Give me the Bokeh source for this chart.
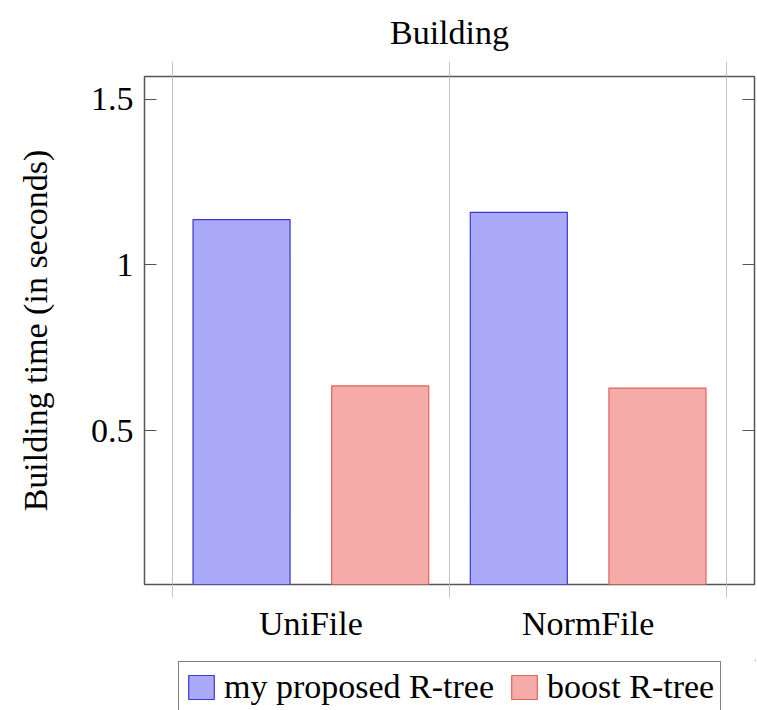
from bokeh.plotting import figure
from bokeh.layouts import column
from bokeh.models import FixedTicker, LinearAxis, Range1d, Legend, LegendItem, ColumnDataSource
from bokeh.transform import dodge
from bokeh.embed import file_html
from bokeh.resources import INLINE

categories = ["UniFile", "NormFile"]
xpos = [1, 2]
mine = [1.137, 1.159]
boost = [0.635, 0.628]
yticks = [0.5, 1, 1.5]
ytick_labels = ["0.5", "1", "1.5"]
series_names = ["my proposed R-tree", "boost R-tree"]

FONT = "Liberation Serif"
FS = "34px"
GRID = "#c4c4c4"
FRAME = "#555555"
BLUE_FILL, BLUE_LINE = "#aaaaf8", "#3a3ad2"
RED_FILL, RED_LINE = "#f5aca8", "#e2625e"

p = figure(frame_width=610, frame_height=508, x_range=Range1d(0.4, 2.6), y_range=Range1d(0.035, 1.569),
           output_backend="svg", toolbar_location=None, title="Building",
           min_border_left=144, min_border_right=2, min_border_top=73, min_border_bottom=76)

src = ColumnDataSource(dict(x=xpos, mine=mine, boost=boost))
r1 = p.vbar(x=dodge("x", -0.25), top="mine", bottom=0, width=0.35, source=src,
            fill_color=BLUE_FILL, line_color=BLUE_LINE, line_width=1.2)
r2 = p.vbar(x=dodge("x", 0.25), top="boost", bottom=0, width=0.35, source=src,
            fill_color=RED_FILL, line_color=RED_LINE, line_width=1.2)

bounds = [x - 0.5 for x in xpos] + [xpos[-1] + 0.5]

xa = p.xaxis[0]
xa.ticker = FixedTicker(ticks=xpos, minor_ticks=bounds)
xa.major_label_overrides = {x: c for x, c in zip(xpos, categories)}
xa.major_tick_line_color = None
xa.major_tick_out = 0
xa.major_tick_in = 0
xa.minor_tick_out = 13
xa.minor_tick_in = 0
xa.minor_tick_line_color = GRID
xa.axis_line_color = None
xa.major_label_standoff = 7
xa.major_label_text_font = FONT
xa.major_label_text_font_size = FS
xa.major_label_text_color = "black"

ta = LinearAxis(ticker=FixedTicker(ticks=[], minor_ticks=bounds),
                major_tick_line_color=None, major_tick_out=0, major_tick_in=0,
                major_label_standoff=0,
                minor_tick_out=15, minor_tick_in=0, minor_tick_line_color=GRID,
                axis_line_color=None)
p.add_layout(ta, "above")

p.xgrid.ticker = FixedTicker(ticks=xpos, minor_ticks=bounds)
p.xgrid.grid_line_color = None
p.xgrid.minor_grid_line_color = GRID
p.ygrid.grid_line_color = None

ya = p.yaxis[0]
ya.ticker = FixedTicker(ticks=yticks)
ya.major_label_overrides = {t: l for t, l in zip(yticks, ytick_labels)}
ya.major_tick_in = 12
ya.major_tick_out = 0
ya.major_tick_line_color = FRAME
ya.minor_tick_line_color = None
ya.axis_line_color = None
ya.major_label_standoff = 11
ya.major_label_text_font = FONT
ya.major_label_text_font_size = FS
ya.major_label_text_color = "black"
ya.axis_label = "Building time (in seconds)"
ya.axis_label_text_font = FONT
ya.axis_label_text_font_size = FS
ya.axis_label_text_font_style = "normal"
ya.axis_label_text_color = "black"
ya.axis_label_standoff = 34

ra = LinearAxis(ticker=FixedTicker(ticks=[], minor_ticks=yticks),
                major_label_standoff=0, major_tick_in=0, major_tick_out=0,
                major_tick_line_color=None, minor_tick_in=12, minor_tick_out=0,
                minor_tick_line_color=FRAME, axis_line_color=None)
p.add_layout(ra, "right")

p.outline_line_color = FRAME
p.outline_line_width = 1.5

p.title.text_font = FONT
p.title.text_font_size = FS
p.title.text_font_style = "normal"
p.title.text_color = "black"
p.title.align = "center"
p.title.standoff = 22

# legend strip below the chart (its own bar renderers lie outside its visible range)
p2 = figure(width=757, height=53, x_range=Range1d(-20, -19), y_range=Range1d(-20, -19),
            output_backend="svg", toolbar_location=None,
            x_axis_location=None, y_axis_location=None,
            min_border_left=0, min_border_right=0, min_border_top=0, min_border_bottom=0)
p2.grid.visible = False
p2.outline_line_color = None
l1 = p2.vbar(x=dodge("x", -0.25), top="mine", bottom=0, width=0.35, source=src,
             fill_color=BLUE_FILL, line_color=BLUE_LINE, line_width=1.2)
l2 = p2.vbar(x=dodge("x", 0.25), top="boost", bottom=0, width=0.35, source=src,
             fill_color=RED_FILL, line_color=RED_LINE, line_width=1.2)

legend = Legend(items=[LegendItem(label=series_names[0], renderers=[l1]),
                       LegendItem(label=series_names[1], renderers=[l2])],
                orientation="horizontal", location=(34, 0),
                label_text_font=FONT, label_text_font_size=FS, label_text_color="black",
                glyph_width=32, glyph_height=30, label_standoff=7, spacing=14,
                padding=6, margin=0, border_line_color="black", border_line_width=1,
                background_fill_color="white", background_fill_alpha=1.0)
p2.add_layout(legend, "center")

p.background_fill_color = "white"
p.border_fill_color = "white"

layout = column(p, p2, spacing=0)
open("out.html", "w").write(file_html(layout, INLINE))
